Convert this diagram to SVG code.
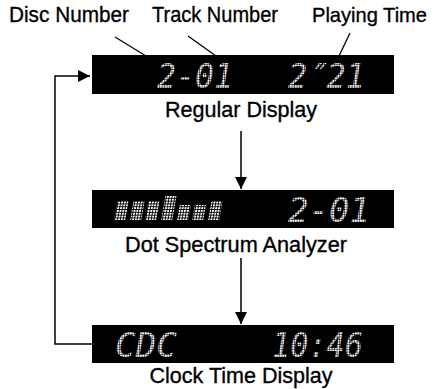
<svg xmlns="http://www.w3.org/2000/svg" width="434" height="389" viewBox="0 0 434 389">
<defs>
<style>
.lbl{font-family:"Liberation Sans Narrow","Liberation Sans",Arial,sans-serif;font-size:22px;fill:#000;stroke:#000;stroke-width:0.35}
.box{fill:#000}
.lcd{font-family:"DejaVu Sans Mono","Liberation Mono",monospace;font-style:oblique;font-size:34px;fill:url(#dots)}
.ln{stroke:#000;stroke-width:1.5;fill:none}
.lead{stroke:#000;stroke-width:1.3;fill:none}
</style>
<pattern id="dots" width="2.5" height="2.5" patternUnits="userSpaceOnUse">
<rect x="0" y="0" width="2" height="2" fill="#fff"/>
</pattern>
<pattern id="grid" width="2.8" height="2.8" patternUnits="userSpaceOnUse">
<rect x="0" y="0" width="1.9" height="1.9" fill="#fff"/>
</pattern>
<marker id="ah" viewBox="0 0 10 10" refX="10" refY="5" markerWidth="12" markerHeight="12" markerUnits="userSpaceOnUse" orient="auto">
<path d="M0,0 L10,5 L0,10 Z" fill="#000"/>
</marker>
</defs>
<rect width="434" height="389" fill="#fff"/>

<g id="labels-top">
<text class="lbl" x="9" y="22" textLength="120" lengthAdjust="spacingAndGlyphs">Disc Number</text>
<text class="lbl" x="152" y="22" textLength="126" lengthAdjust="spacingAndGlyphs">Track Number</text>
<text class="lbl" x="312" y="22" style="font-size:21px" textLength="115" lengthAdjust="spacingAndGlyphs">Playing Time</text>
</g>

<g id="regular-display">
<rect class="box" x="92" y="55" width="302" height="39"/>
<text class="lcd" x="157" y="88" textLength="76" lengthAdjust="spacingAndGlyphs">2-01</text>
<text class="lcd" x="288" y="88" textLength="77" lengthAdjust="spacingAndGlyphs">2″21</text>
<text class="lbl" x="241" y="117" text-anchor="middle" textLength="152" lengthAdjust="spacingAndGlyphs">Regular Display</text>
</g>

<g id="dot-spectrum">
<rect class="box" x="92" y="190" width="302" height="38"/>
<g transform="skewX(-10)" fill="url(#grid)">
<rect x="153" y="201" width="11" height="19"/>
<rect x="169" y="201" width="11" height="19"/>
<rect x="184" y="201" width="11" height="19"/>
<rect x="200" y="196" width="11" height="24"/>
<rect x="216" y="205" width="11" height="15"/>
<rect x="231" y="205" width="11" height="15"/>
<rect x="247" y="201" width="11" height="19"/>
</g>
<text class="lcd" x="288" y="222" textLength="82" lengthAdjust="spacingAndGlyphs">2-01</text>
<text class="lbl" x="236" y="252" text-anchor="middle" textLength="222" lengthAdjust="spacingAndGlyphs">Dot Spectrum Analyzer</text>
</g>

<g id="clock-time">
<rect class="box" x="92" y="325" width="302" height="38"/>
<text class="lcd" x="115" y="357" textLength="62" lengthAdjust="spacingAndGlyphs">CDC</text>
<text class="lcd" x="272" y="357" textLength="91" lengthAdjust="spacingAndGlyphs">10:46</text>
<text class="lbl" x="241" y="383" text-anchor="middle" textLength="183" lengthAdjust="spacingAndGlyphs">Clock Time Display</text>
</g>

<g id="connectors">
<line class="lead" x1="115" y1="37" x2="146" y2="56"/>
<line class="lead" x1="188" y1="36" x2="216" y2="56"/>
<line class="lead" x1="350" y1="33" x2="339" y2="56"/>
<line class="ln" x1="241" y1="131" x2="241" y2="189" marker-end="url(#ah)"/>
<line class="ln" x1="241" y1="258" x2="241" y2="324" marker-end="url(#ah)"/>
<polyline class="ln" points="92,344 55,344 55,76 90,76" marker-end="url(#ah)"/>
</g>
</svg>
